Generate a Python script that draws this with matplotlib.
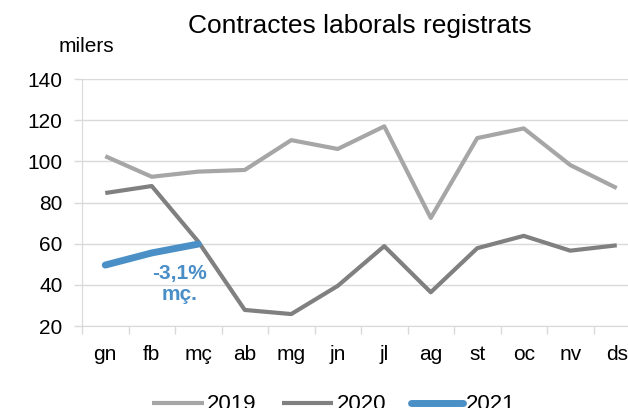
import matplotlib.pyplot as plt
from matplotlib.ticker import FixedLocator

plt.rcParams['font.family'] = ['Liberation Sans', 'DejaVu Sans']

# Monthly data (thousands of contracts)
months = ["gn", "fb", "mç", "ab", "mg", "jn", "jl", "ag", "st", "oc", "nv", "ds"]
v2019 = [102.5, 92.5, 95, 95.8, 110.3, 106, 117, 72.5, 111.3, 116, 98.2, 87]
v2020 = [84.6, 88, 61, 27.8, 25.8, 39.5, 58.8, 36.4, 57.8, 63.8, 56.6, 59.2]
v2021 = [49.6, 55.5, 59.8]

W, H = 628, 408
fig = plt.figure(figsize=(W / 100, H / 100), dpi=100)
# plot area runs past the right edge, as in the original
ax = fig.add_axes([82 / W, 1 - 326 / H, 558 / W, 247 / H])

x = range(len(months))
ax.plot(x, v2019, color="#a6a6a6", lw=3.0, label="2019", solid_capstyle="butt")
ax.plot(x, v2020, color="#808080", lw=3.0, label="2020", solid_capstyle="butt")
ax.plot(range(len(v2021)), v2021, color="#4a90c6", lw=5.0, label="2021",
        solid_capstyle="round")

ax.set_xlim(-0.5, 11.5)
ax.set_ylim(20, 140)
ax.set_yticks(range(20, 141, 20))
ax.grid(axis="y", color="#d9d9d9", lw=1)
ax.set_axisbelow(True)

# category boundaries as tick marks, labels centred between them
ax.xaxis.set_major_locator(FixedLocator([i - 0.5 for i in range(13)]))
ax.xaxis.set_minor_locator(FixedLocator(list(x)))
ax.set_xticklabels([])
ax.set_xticklabels(months, minor=True)
ax.tick_params(axis="x", which="major", length=6, color="#d9d9d9", width=1)
ax.tick_params(axis="x", which="minor", length=0, pad=14, labelsize=15)
ax.tick_params(axis="y", length=6, color="#d9d9d9", width=1, pad=8, labelsize=15)

for s in ["top", "right"]:
    ax.spines[s].set_visible(False)
for s in ["left", "bottom"]:
    ax.spines[s].set_color("#d9d9d9")

ax.text(1.6, 40.5, "-3,1%\nmç.", color="#4a8ec8", fontsize=15, fontweight="bold",
        ha="center", va="center", linespacing=1.1)

fig.text(360 / W, 1 - 26 / H, "Contractes laborals registrats", fontsize=19,
         ha="center", va="center")
fig.text(86 / W, 1 - 46 / H, "milers", fontsize=15, ha="center", va="center")

fig.legend(loc="center", bbox_to_anchor=(334 / W, 1 - 405 / H), ncol=3,
           frameon=False, fontsize=16, handlelength=2.3, handletextpad=0.15,
           columnspacing=1.15)

fig.savefig("out.png", dpi=100)
